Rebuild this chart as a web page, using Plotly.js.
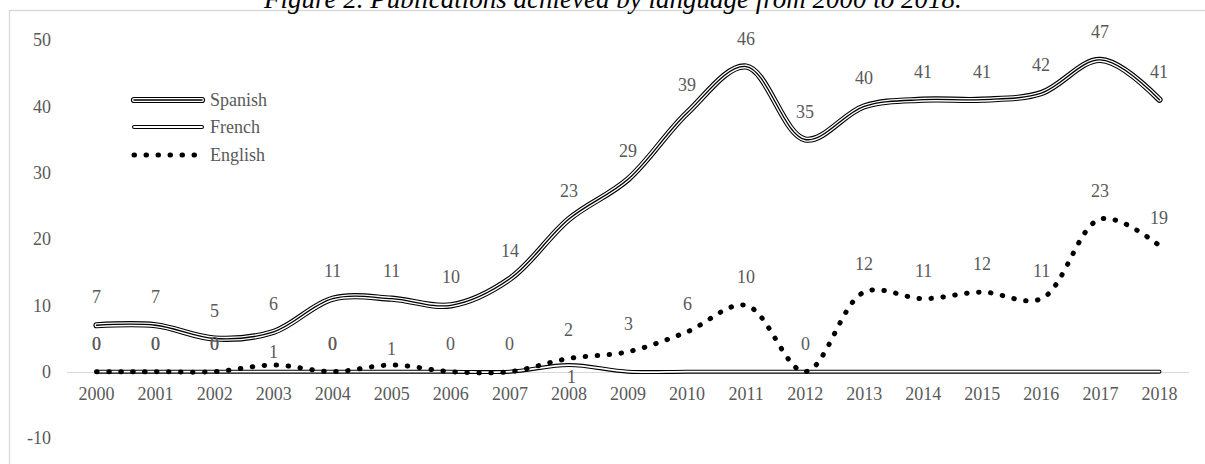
<!DOCTYPE html>
<html>
<head>
<meta charset="utf-8">
<script src="https://cdn.plot.ly/plotly-3.0.1.min.js"></script>
<style>
  html, body { margin: 0; padding: 0; background: #ffffff; }
  #chart { width: 1205px; height: 464px; }
  /* round caps turn the dotted dash pattern into round dots */
  path.js-line, .shapelayer path { stroke-linecap: round; }
</style>
</head>
<body>
<div id="chart"></div>
<script>
// Publications per year and language
const years = ['2000','2001','2002','2003','2004','2005','2006','2007','2008','2009',
               '2010','2011','2012','2013','2014','2015','2016','2017','2018'];
const spanish = [7, 7, 5, 6, 11, 11, 10, 14, 23, 29, 39, 46, 35, 40, 41, 41, 42, 47, 41];
const french  = [0, 0, 0, 0, 0, 0, 0, 0, 1, 0, 0, 0, 0, 0, 0, 0, 0, 0, 0];
const english = [0, 0, 0, 1, 0, 1, 0, 0, 2, 3, 6, 10, 0, 12, 11, 12, 11, 23, 19];
const seriesNames = ['Spanish', 'French', 'English'];
const yTickValues = [-10, 0, 10, 20, 30, 40, 50];
const yTickLabels = ['-10', '0', '10', '20', '30', '40', '50'];
// years whose French value carries a data label
const frenchLabelledYears = ['2000', '2001', '2002', '2004', '2008'];

const FONT = 'Liberation Serif, Times New Roman, serif';
const TEXT_GREY = '#595959';

// plot box in pixels
const W = 1205, H = 464;
const M = { l: 67, r: 16, t: 40, b: 26 };
const PW = W - M.l - M.r, PH = H - M.t - M.b;
const px = x => (x - M.l) / PW;           // pixel x -> paper x
const py = y => (M.t + PH - y) / PH;      // pixel y -> paper y

function line(y, color, width, dash) {
  return {
    type: 'scatter', mode: 'lines', x: years, y: y,
    line: { color: color, width: width, shape: 'spline', smoothing: 1, dash: dash || 'solid' },
    hoverinfo: 'skip', showlegend: false
  };
}

const DOTS = '0.5px,11.5px';
const traces = [
  // Spanish: triple compound stroke
  line(spanish, '#000000', 6.2),
  line(spanish, '#ffffff', 4),
  line(spanish, '#000000', 1.3),
  // French: double compound stroke
  line(french, '#000000', 4),
  line(french, '#ffffff', 1.8),
  // English: round dots
  line(english, '#000000', 5, DOTS)
];

// data labels, placed on the category index of each year
const annotations = [];
function label(i, y, lift, dx) {
  annotations.push({
    x: i, y: y, xref: 'x', yref: 'y', text: String(y), showarrow: false,
    xanchor: 'center', yanchor: 'middle', yshift: lift, xshift: dx || 0,
    font: { family: FONT, size: 18, color: TEXT_GREY }
  });
}
years.forEach((yr, i) => label(i, spanish[i], 28));
years.forEach((yr, i) => {
  if (frenchLabelledYears.indexOf(yr) < 0) return;
  if (french[i] > 0) label(i, french[i], -12, 3);
  else label(i, french[i], 28);
});
const englishLift = { '2003': 13, '2005': 16 };
years.forEach((yr, i) => label(i, english[i], englishLift[yr] || 28));

// caption
annotations.push({
  xref: 'paper', yref: 'paper', x: px(612), y: py(-1),
  xanchor: 'center', yanchor: 'middle', showarrow: false,
  text: '<i>Figure 2. Publications achieved by language from 2000 to 2018.</i>',
  font: { family: FONT, size: 27, color: '#000000' }
});

// legend: sample strokes drawn as shapes, names as annotations
const legendRows = [100, 127, 155];
const shapes = [];
function sampleLine(yPix, color, width, dash) {
  shapes.push({
    type: 'line', xref: 'paper', yref: 'paper',
    x0: px(134), x1: px(202), y0: py(yPix), y1: py(yPix),
    line: { color: color, width: width, dash: dash || 'solid' }
  });
}
sampleLine(legendRows[0], '#000000', 6.2);
sampleLine(legendRows[0], '#ffffff', 4);
sampleLine(legendRows[0], '#000000', 1.3);
sampleLine(legendRows[1], '#000000', 4);
sampleLine(legendRows[1], '#ffffff', 1.8);
sampleLine(legendRows[2], '#000000', 5, DOTS);
seriesNames.forEach((name, i) => {
  annotations.push({
    xref: 'paper', yref: 'paper', x: px(208), y: py(legendRows[i]),
    xanchor: 'left', yanchor: 'middle', showarrow: false, text: name,
    font: { family: FONT, size: 18, color: TEXT_GREY }
  });
});

// chart frame
shapes.push({
  type: 'rect', xref: 'paper', yref: 'paper', layer: 'below',
  x0: px(9.5), x1: px(1230), y0: py(10.5), y1: py(500),
  line: { color: '#d9d9d9', width: 1.3 }, fillcolor: 'rgba(0,0,0,0)'
});

const layout = {
  width: W, height: H,
  margin: M,
  paper_bgcolor: '#ffffff', plot_bgcolor: '#ffffff',
  showlegend: false,
  hovermode: false,
  xaxis: {
    type: 'category', range: [-0.5, years.length - 0.5],
    anchor: 'free', position: 10 / 60,
    showline: true, linecolor: '#d9d9d9', linewidth: 1.5,
    showgrid: false, zeroline: false, ticks: '',
    ticklabelstandoff: 5, layer: 'below traces',
    tickfont: { family: FONT, size: 18, color: TEXT_GREY }
  },
  yaxis: {
    range: [-10, 50], tickmode: 'array', tickvals: yTickValues, ticktext: yTickLabels,
    showline: false, showgrid: false, zeroline: false, ticks: '',
    ticklabelstandoff: 15,
    tickfont: { family: FONT, size: 18, color: TEXT_GREY }
  },
  annotations: annotations,
  shapes: shapes
};

Plotly.newPlot('chart', traces, layout, { staticPlot: true, displayModeBar: false });
</script>
</body>
</html>
